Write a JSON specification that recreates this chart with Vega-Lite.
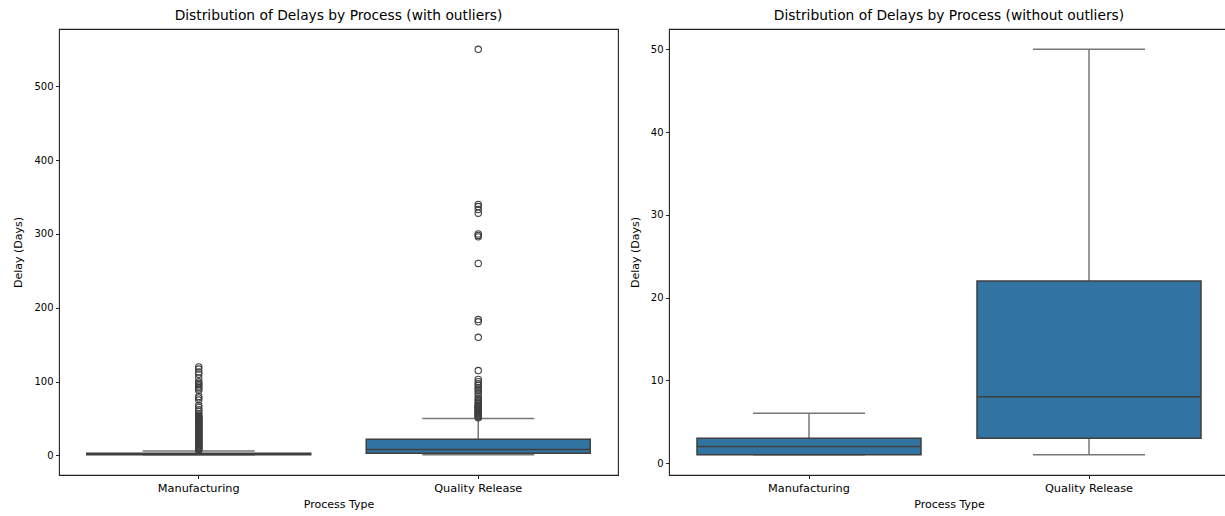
{
  "$schema": "https://vega.github.io/schema/vega-lite/v6.json",
  "padding": {"left": 12, "top": 8, "right": 0, "bottom": 0},
  "spacing": 9,
  "background": "white",
  "config": {
    "font": "DejaVu Sans",
    "view": {"stroke": "#222222", "strokeWidth": 1.1},
    "title": {"fontSize": 13.8, "fontWeight": "normal", "color": "black", "offset": 6},
    "axis": {
      "labelFont": "DejaVu Sans", "titleFont": "DejaVu Sans",
      "labelFontSize": 10, "titleFontSize": 11, "titleFontWeight": "normal",
      "labelColor": "black", "titleColor": "black",
      "tickColor": "#222222", "tickSize": 3.5, "tickWidth": 1,
      "labelPadding": 2.5, "domain": false, "grid": false
    },
    "axisX": {"labelFontSize": 11.3, "labelPadding": 3.5, "titlePadding": 5}
  },
  "datasets": {
    "stats": [
      {"process": "Manufacturing", "lo": 1, "q1": 1, "median": 2, "q3": 3, "hi": 6},
      {"process": "Quality Release", "lo": 1, "q1": 3, "median": 8, "q3": 22, "hi": 50}
    ],
    "outliers": [
      {"process": "Manufacturing", "delay": 7}, {"process": "Manufacturing", "delay": 8}, {"process": "Manufacturing", "delay": 9}, {"process": "Manufacturing", "delay": 10},
      {"process": "Manufacturing", "delay": 11}, {"process": "Manufacturing", "delay": 12}, {"process": "Manufacturing", "delay": 13}, {"process": "Manufacturing", "delay": 14},
      {"process": "Manufacturing", "delay": 15}, {"process": "Manufacturing", "delay": 16}, {"process": "Manufacturing", "delay": 17}, {"process": "Manufacturing", "delay": 18},
      {"process": "Manufacturing", "delay": 19}, {"process": "Manufacturing", "delay": 20}, {"process": "Manufacturing", "delay": 21}, {"process": "Manufacturing", "delay": 22},
      {"process": "Manufacturing", "delay": 23}, {"process": "Manufacturing", "delay": 24}, {"process": "Manufacturing", "delay": 25}, {"process": "Manufacturing", "delay": 26},
      {"process": "Manufacturing", "delay": 27}, {"process": "Manufacturing", "delay": 28}, {"process": "Manufacturing", "delay": 29}, {"process": "Manufacturing", "delay": 30},
      {"process": "Manufacturing", "delay": 31}, {"process": "Manufacturing", "delay": 32}, {"process": "Manufacturing", "delay": 33}, {"process": "Manufacturing", "delay": 34},
      {"process": "Manufacturing", "delay": 35}, {"process": "Manufacturing", "delay": 36}, {"process": "Manufacturing", "delay": 37}, {"process": "Manufacturing", "delay": 38},
      {"process": "Manufacturing", "delay": 39}, {"process": "Manufacturing", "delay": 40}, {"process": "Manufacturing", "delay": 41}, {"process": "Manufacturing", "delay": 42},
      {"process": "Manufacturing", "delay": 43}, {"process": "Manufacturing", "delay": 44}, {"process": "Manufacturing", "delay": 45}, {"process": "Manufacturing", "delay": 46},
      {"process": "Manufacturing", "delay": 47}, {"process": "Manufacturing", "delay": 48}, {"process": "Manufacturing", "delay": 49}, {"process": "Manufacturing", "delay": 50},
      {"process": "Manufacturing", "delay": 51}, {"process": "Manufacturing", "delay": 52}, {"process": "Manufacturing", "delay": 53}, {"process": "Manufacturing", "delay": 55},
      {"process": "Manufacturing", "delay": 57}, {"process": "Manufacturing", "delay": 60}, {"process": "Manufacturing", "delay": 62}, {"process": "Manufacturing", "delay": 65},
      {"process": "Manufacturing", "delay": 68}, {"process": "Manufacturing", "delay": 75}, {"process": "Manufacturing", "delay": 78}, {"process": "Manufacturing", "delay": 80},
      {"process": "Manufacturing", "delay": 88}, {"process": "Manufacturing", "delay": 90}, {"process": "Manufacturing", "delay": 92}, {"process": "Manufacturing", "delay": 94},
      {"process": "Manufacturing", "delay": 96}, {"process": "Manufacturing", "delay": 98}, {"process": "Manufacturing", "delay": 100}, {"process": "Manufacturing", "delay": 105},
      {"process": "Manufacturing", "delay": 110}, {"process": "Manufacturing", "delay": 113}, {"process": "Manufacturing", "delay": 117}, {"process": "Manufacturing", "delay": 120},
      {"process": "Quality Release", "delay": 51}, {"process": "Quality Release", "delay": 52}, {"process": "Quality Release", "delay": 53}, {"process": "Quality Release", "delay": 54},
      {"process": "Quality Release", "delay": 55}, {"process": "Quality Release", "delay": 56}, {"process": "Quality Release", "delay": 57}, {"process": "Quality Release", "delay": 58},
      {"process": "Quality Release", "delay": 59}, {"process": "Quality Release", "delay": 60}, {"process": "Quality Release", "delay": 61}, {"process": "Quality Release", "delay": 62},
      {"process": "Quality Release", "delay": 63}, {"process": "Quality Release", "delay": 64}, {"process": "Quality Release", "delay": 65}, {"process": "Quality Release", "delay": 66},
      {"process": "Quality Release", "delay": 67}, {"process": "Quality Release", "delay": 68}, {"process": "Quality Release", "delay": 70}, {"process": "Quality Release", "delay": 72},
      {"process": "Quality Release", "delay": 74}, {"process": "Quality Release", "delay": 76}, {"process": "Quality Release", "delay": 78}, {"process": "Quality Release", "delay": 82},
      {"process": "Quality Release", "delay": 85}, {"process": "Quality Release", "delay": 88}, {"process": "Quality Release", "delay": 90}, {"process": "Quality Release", "delay": 92},
      {"process": "Quality Release", "delay": 95}, {"process": "Quality Release", "delay": 97}, {"process": "Quality Release", "delay": 100}, {"process": "Quality Release", "delay": 103},
      {"process": "Quality Release", "delay": 115}, {"process": "Quality Release", "delay": 160}, {"process": "Quality Release", "delay": 181}, {"process": "Quality Release", "delay": 184},
      {"process": "Quality Release", "delay": 260}, {"process": "Quality Release", "delay": 296}, {"process": "Quality Release", "delay": 298}, {"process": "Quality Release", "delay": 300},
      {"process": "Quality Release", "delay": 328}, {"process": "Quality Release", "delay": 333}, {"process": "Quality Release", "delay": 337}, {"process": "Quality Release", "delay": 340},
      {"process": "Quality Release", "delay": 550}
    ]
  },
  "hconcat": [
    {
      "title": "Distribution of Delays by Process (with outliers)",
      "width": 559,
      "height": 446,
      "encoding": {
        "x": {"field": "process", "type": "nominal", "title": "Process Type",
              "scale": {"paddingInner": 0, "paddingOuter": 0},
              "axis": {"labelAngle": 0}}
      },
      "layer": [
        {
          "data": {"name": "stats"},
          "mark": {"type": "rule", "color": "#777777", "strokeWidth": 1.5},
          "encoding": {
            "y": {"field": "lo", "type": "quantitative", "title": "Delay (Days)",
                  "scale": {"domain": [-26.45, 577.45], "nice": false, "zero": false},
                  "axis": {"values": [0, 100, 200, 300, 400, 500], "titlePadding": 10}},
            "y2": {"field": "q1"}
          }
        },
        {
          "data": {"name": "stats"},
          "mark": {"type": "rule", "color": "#777777", "strokeWidth": 1.5},
          "encoding": {"y": {"field": "q3", "type": "quantitative"}, "y2": {"field": "hi"}}
        },
        {
          "data": {"name": "stats"},
          "mark": {"type": "tick", "color": "#777777", "thickness": 1.5, "size": 112, "opacity": 1},
          "encoding": {"y": {"field": "lo", "type": "quantitative"}}
        },
        {
          "data": {"name": "stats"},
          "mark": {"type": "tick", "color": "#777777", "thickness": 1.5, "size": 112, "opacity": 1},
          "encoding": {"y": {"field": "hi", "type": "quantitative"}}
        },
        {
          "data": {"name": "stats"},
          "mark": {"type": "bar", "fill": "#3274a1", "stroke": "#3f3f3f", "strokeWidth": 1.5, "size": 224},
          "encoding": {"y": {"field": "q1", "type": "quantitative"}, "y2": {"field": "q3"}}
        },
        {
          "data": {"name": "stats"},
          "mark": {"type": "tick", "color": "#3f3f3f", "thickness": 1.5, "size": 224, "opacity": 1},
          "encoding": {"y": {"field": "median", "type": "quantitative"}}
        },
        {
          "data": {"name": "outliers"},
          "mark": {"type": "point", "shape": "circle", "filled": false, "stroke": "#3f3f3f", "strokeWidth": 1.1, "size": 40, "opacity": 1},
          "encoding": {"y": {"field": "delay", "type": "quantitative"}}
        }
      ]
    },
    {
      "title": "Distribution of Delays by Process (without outliers)",
      "width": 560,
      "height": 446,
      "data": {"name": "stats"},
      "encoding": {
        "x": {"field": "process", "type": "nominal", "title": "Process Type",
              "scale": {"paddingInner": 0, "paddingOuter": 0},
              "axis": {"labelAngle": 0}}
      },
      "layer": [
        {
          "mark": {"type": "rule", "color": "#777777", "strokeWidth": 1.5},
          "encoding": {
            "y": {"field": "lo", "type": "quantitative", "title": "Delay (Days)",
                  "scale": {"domain": [-1.45, 52.45], "nice": false, "zero": false},
                  "axis": {"values": [0, 10, 20, 30, 40, 50], "titlePadding": 10}},
            "y2": {"field": "q1"}
          }
        },
        {
          "mark": {"type": "rule", "color": "#777777", "strokeWidth": 1.5},
          "encoding": {"y": {"field": "q3", "type": "quantitative"}, "y2": {"field": "hi"}}
        },
        {
          "mark": {"type": "tick", "color": "#777777", "thickness": 1.5, "size": 112, "opacity": 1},
          "encoding": {"y": {"field": "lo", "type": "quantitative"}}
        },
        {
          "mark": {"type": "tick", "color": "#777777", "thickness": 1.5, "size": 112, "opacity": 1},
          "encoding": {"y": {"field": "hi", "type": "quantitative"}}
        },
        {
          "mark": {"type": "bar", "fill": "#3274a1", "stroke": "#3f3f3f", "strokeWidth": 1.5, "size": 224},
          "encoding": {"y": {"field": "q1", "type": "quantitative"}, "y2": {"field": "q3"}}
        },
        {
          "mark": {"type": "tick", "color": "#3f3f3f", "thickness": 1.5, "size": 224, "opacity": 1},
          "encoding": {"y": {"field": "median", "type": "quantitative"}}
        }
      ]
    }
  ]
}
